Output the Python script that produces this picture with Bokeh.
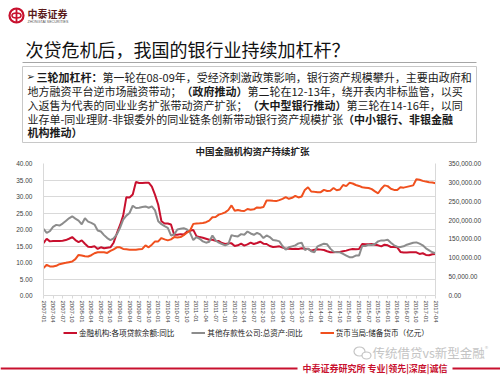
from bokeh.plotting import figure
from bokeh.models import Range1d, LinearAxis, FixedTicker, Legend, LegendItem, NumeralTickFormatter
from bokeh.embed import file_html
from bokeh.resources import INLINE
from bokeh.core.properties import value

# ---------------- data ----------------
months = [f"{y}-{m:02d}" for y in range(2007, 2018) for m in range(1, 13)][:124]
tick_idx = list(range(0, 124, 3))

loan_yoy = [15.9,17.2,16.4,16.5,16.5,16.5,16.6,16.8,17.2,17.7,16.8,16.2,
            16.7,15.7,14.8,14.7,14.9,14.1,14.6,14.3,14.5,14.6,16.0,18.8,
            21.3,24.2,29.8,29.7,30.6,34.4,34.1,34.1,34.2,34.2,33.0,30.5,
            27.5,22.5,21.8,21.8,21.5,18.4,18.4,18.6,18.5,19.3,19.6,19.9,
            18.0,17.7,17.5,17.2,16.9,16.9,16.6,16.5,15.9,15.6,15.8,15.8,
            15.0,15.2,15.7,15.1,15.5,16.0,15.6,15.9,16.3,15.7,15.6,15.0,
            14.7,14.8,14.9,14.5,14.2,14.2,14.1,14.2,14.1,14.3,14.2,14.1,
            13.6,13.9,14.0,13.9,13.8,13.4,13.1,13.1,13.2,13.2,13.4,13.6,
            13.9,14.1,14.0,14.1,15.6,15.5,15.5,15.6,15.4,15.2,14.9,15.4,
            15.2,14.7,14.7,14.6,13.2,13.0,13.0,13.1,13.1,13.1,12.6,12.8,
            12.3,12.2,12.5,12.6]

asset_yoy = [20.2,19.0,19.5,20.8,21.4,21.2,21.8,22.6,23.4,24.0,23.3,22.7,
             21.6,23.4,22.4,22.0,21.5,19.7,19.4,18.3,17.4,16.8,17.3,18.5,
             20.5,23.0,24.2,25.0,27.2,26.5,26.6,26.8,27.0,26.6,27.0,25.8,
             22.5,21.6,21.0,20.5,18.2,18.5,20.0,20.2,20.4,20.0,19.0,16.8,
             17.7,17.2,16.4,16.0,16.3,18.2,16.7,16.0,15.6,15.2,15.6,18.3,
             18.0,17.9,18.6,18.4,19.4,18.8,18.4,19.0,18.5,17.4,18.2,17.7,
             16.8,16.7,16.4,15.0,13.9,14.6,14.9,15.2,15.8,16.0,13.8,14.2,
             13.4,13.1,14.9,15.3,15.7,15.5,14.2,13.3,13.1,13.1,12.6,12.1,
             11.6,11.6,12.1,12.1,15.0,15.0,15.4,15.3,15.6,16.4,16.7,16.7,
             16.9,16.0,15.2,14.8,14.7,14.9,15.4,15.7,16.0,16.1,15.7,15.2,
             14.3,13.7,13.1,12.8]

reserve_money = [72600,81400,77000,77000,78800,83100,84900,86600,88400,90100,96300,107600,
                 105900,104100,103300,106800,112000,114600,114600,114600,112900,118100,122500,127800,
                 127800,123400,122500,121600,121600,121600,122500,123400,133000,127800,134800,143500,
                 143500,152300,148800,146100,148800,154900,154000,154900,160100,166300,172400,189900,
                 190800,191600,192500,194300,198600,207400,208300,214400,217000,220500,226600,238900,
                 224900,226600,224900,224000,229300,227500,228400,233600,232800,234500,252000,252000,
                 251100,250300,252900,256400,260800,256400,259000,264300,260000,262500,280000,287000,
                 275700,274800,274000,274000,280000,277000,278000,285000,279000,281000,293000,290000,
                 298700,297000,293000,290500,287000,286000,285000,282000,276000,271000,283000,292000,
                 290000,283000,280000,280000,287000,286000,288000,290000,292000,308000,307000,304000,
                 302000,300500,299500,297500]

series_names = ["金融机构:各项贷款余额:同比", "其他存款性公司:总资产:同比", "货币当局:储备货币（亿元）"]
left_ticks = [0, 5, 10, 15, 20, 25, 30, 35, 40]
right_ticks = [0, 50000, 100000, 150000, 200000, 250000, 300000, 350000]

page_title = "次贷危机后，我国的银行业持续加杠杆？"
chart_title = "中国金融机构资产持续扩张"
body_lines = [
    [("三轮加杠杆：", True), ("第一轮在08-09年，受经济刺激政策影响，银行资产规模攀升，主要由政府和", False)],
    [("地方融资平台逆市场融资带动；", False), ("（政府推动）", True), ("第二轮在12-13年，绕开表内非标监管，以买", False)],
    [("入返售为代表的同业业务扩张带动资产扩张；", False), ("（大中型银行推动）", True), ("第三轮在14-16年，以同", False)],
    [("业存单-同业理财-非银委外的同业链条创新带动银行资产规模扩张", False), ("（中小银行、非银金融", True)],
    [("机构推动）", True)],
]
footer_text = "中泰证券研究所 专业|领先|深度|诚信"
watermark = "传统借贷vs新型金融"

RED = "#C8102E"
GRAY = "#8C8C8C"
ORANGE = "#F0501E"
CJK = "Noto Sans CJK SC"

# ---------------- header (page y 0-158) ----------------
H_TOP = 158
hdr = figure(width=500, height=H_TOP, x_range=Range1d(0, 500), y_range=Range1d(H_TOP, 0),
             output_backend="svg", toolbar_location=None, min_border=0,
             x_axis_location=None, y_axis_location=None)
hdr.grid.visible = False
hdr.outline_line_color = None

hdr.circle(x=[16], y=[15], radius=7, fill_color=None, line_color=RED, line_width=2.2)
hdr.ellipse(x=[16], y=[15], width=9, height=5, fill_color=None, line_color=RED, line_width=1.6)
hdr.segment(x0=[16], y0=[8.5], x1=[16], y1=[21.5], line_color=RED, line_width=1.8)
hdr.text(x=[27], y=[13], text=["中泰证券"], text_font=value(CJK), text_font_style="bold",
         text_font_size="10px", text_color="#5a1a1a", text_baseline="middle")
hdr.text(x=[27], y=[21], text=["ZHONGTAI SECURITIES"], text_font=value("Liberation Sans"),
         text_font_size="3.6px", text_color="#555555", text_baseline="middle")

hdr.text(x=[25], y=[48], text=[page_title], text_font=value(CJK), text_font_size="18px",
         text_color="#111111", text_baseline="middle")
hdr.segment(x0=[22], y0=[62], x1=[476], y1=[62], line_color="#a6a6a6", line_width=1)

hdr.quad(left=[22], right=[476], top=[66], bottom=[142], fill_color=None, line_color="#c8c8c8", line_width=1)

F = 11.0
def seg_width(s):
    w = 0.0
    for c in s:
        if ord(c) > 255:
            w += 1.0
        elif c == "-":
            w += 0.34
        else:
            w += 0.55
    return w * F

line_y = [76, 90, 104, 118, 131]
hdr.text(x=[26], y=[76], text=["➢"], text_font=value("DejaVu Sans"), text_font_size="10px",
         text_color="#222222", text_baseline="middle")
for i, segs in enumerate(body_lines):
    x = 36 if i == 0 else 27
    for s, bold in segs:
        hdr.text(x=[x], y=[line_y[i]], text=[s], text_font=value(CJK),
                 text_font_style="bold" if bold else "normal",
                 text_font_size=f"{F}px", text_color="#1a1a1a", text_baseline="middle")
        x += seg_width(s)

hdr.text(x=[252], y=[150], text=[chart_title], text_font=value(CJK), text_font_style="bold",
         text_font_size="9.5px", text_color="#222222", text_align="center", text_baseline="middle")

# ---------------- chart (page y 158-323) ----------------
p = figure(width=500, height=165, frame_width=392, frame_height=132,
           x_range=Range1d(0, 123), y_range=Range1d(0, 40),
           output_backend="svg", toolbar_location=None,
           min_border_left=43, min_border_right=65, min_border_top=5, min_border_bottom=28)
p.outline_line_color = None
p.xgrid.visible = False
p.ygrid.ticker = FixedTicker(ticks=left_ticks)
p.ygrid.grid_line_color = "#d9d9d9"

p.extra_y_ranges = {"r": Range1d(0, 350000)}

r1 = p.line(list(range(124)), loan_yoy, line_color=RED, line_width=2)
r2 = p.line(list(range(124)), asset_yoy, line_color=GRAY, line_width=2)
r3 = p.line(list(range(124)), reserve_money, line_color=ORANGE, line_width=2, y_range_name="r")

xa = p.xaxis[0]
xa.ticker = FixedTicker(ticks=tick_idx)
xa.major_label_overrides = {i: months[i] for i in tick_idx}
xa.major_label_orientation = "vertical"
xa.major_label_text_font = "Liberation Sans"
xa.major_label_text_font_size = "6px"
xa.major_label_text_color = "#404040"
xa.axis_line_color = "#d9d9d9"
xa.major_tick_line_color = "#d9d9d9"
xa.major_tick_out = 3
xa.major_tick_in = 0
xa.minor_tick_line_color = None
xa.major_label_standoff = 2

ya = p.yaxis[0]
ya.ticker = FixedTicker(ticks=left_ticks)
ya.formatter = NumeralTickFormatter(format="0.00")
ya.major_label_text_font = "Liberation Sans"
ya.major_label_text_font_size = "6.5px"
ya.major_label_text_color = "#404040"
ya.axis_line_color = "#d9d9d9"
ya.major_tick_line_color = None
ya.minor_tick_line_color = None
ya.major_label_standoff = 5

ra = LinearAxis(y_range_name="r", ticker=FixedTicker(ticks=right_ticks),
                formatter=NumeralTickFormatter(format="0,0.00"))
ra.major_label_text_font = "Liberation Sans"
ra.major_label_text_font_size = "6.5px"
ra.major_label_text_color = "#404040"
ra.axis_line_color = "#d9d9d9"
ra.major_tick_line_color = None
ra.minor_tick_line_color = None
ra.major_label_standoff = 7
p.add_layout(ra, "right")

# ---------------- footer with legend (page y 323-375) ----------------
F_TOP = 323
ftr = figure(width=500, height=375 - F_TOP, x_range=Range1d(0, 500), y_range=Range1d(375, F_TOP),
             output_backend="svg", toolbar_location=None, min_border=0,
             x_axis_location=None, y_axis_location=None)
ftr.grid.visible = False
ftr.outline_line_color = None

# legend keys (off-canvas stubs styled like the chart's series)
k1 = ftr.line(x=[-20, -10], y=[0, 0], line_color=RED, line_width=2)
k2 = ftr.line(x=[-20, -10], y=[0, 0], line_color=GRAY, line_width=2)
k3 = ftr.line(x=[-20, -10], y=[0, 0], line_color=ORANGE, line_width=2)
legend = Legend(items=[LegendItem(label=series_names[0], renderers=[k1]),
                       LegendItem(label=series_names[1], renderers=[k2]),
                       LegendItem(label=series_names[2], renderers=[k3])],
                orientation="horizontal", location=(63, 39),
                label_text_font=CJK, label_text_font_size="7.6px", label_text_color="#222222",
                glyph_width=14, glyph_height=7, label_standoff=2, spacing=17,
                padding=0, margin=0, border_line_alpha=0, background_fill_alpha=0,
                label_height=8)
ftr.add_layout(legend)

ftr.ellipse(x=[359], y=[349], width=11, height=9, fill_color=None, line_color="#c4c4c4", line_width=1.2)
ftr.ellipse(x=[366], y=[353], width=9, height=7, fill_color="white", line_color="#c4c4c4", line_width=1.2)
ftr.text(x=[372], y=[350], text=[watermark], text_font=value(CJK), text_font_size="12.5px",
         text_color="#c4c4c4", text_baseline="middle")
ftr.text(x=[484], y=[345], text=["®"], text_font=value("DejaVu Sans"), text_font_size="4px",
         text_color="#c4c4c4", text_baseline="middle")

ftr.segment(x0=[0, 452], y0=[366, 366], x1=[297, 500], y1=[366, 366], line_color=RED, line_width=2)
ftr.text(x=[302], y=[366], text=[footer_text], text_font=value(CJK), text_font_style="bold",
         text_font_size="9px", text_color=RED, text_baseline="middle")

open("out.html", "w").write(file_html([hdr, p, ftr], INLINE))
